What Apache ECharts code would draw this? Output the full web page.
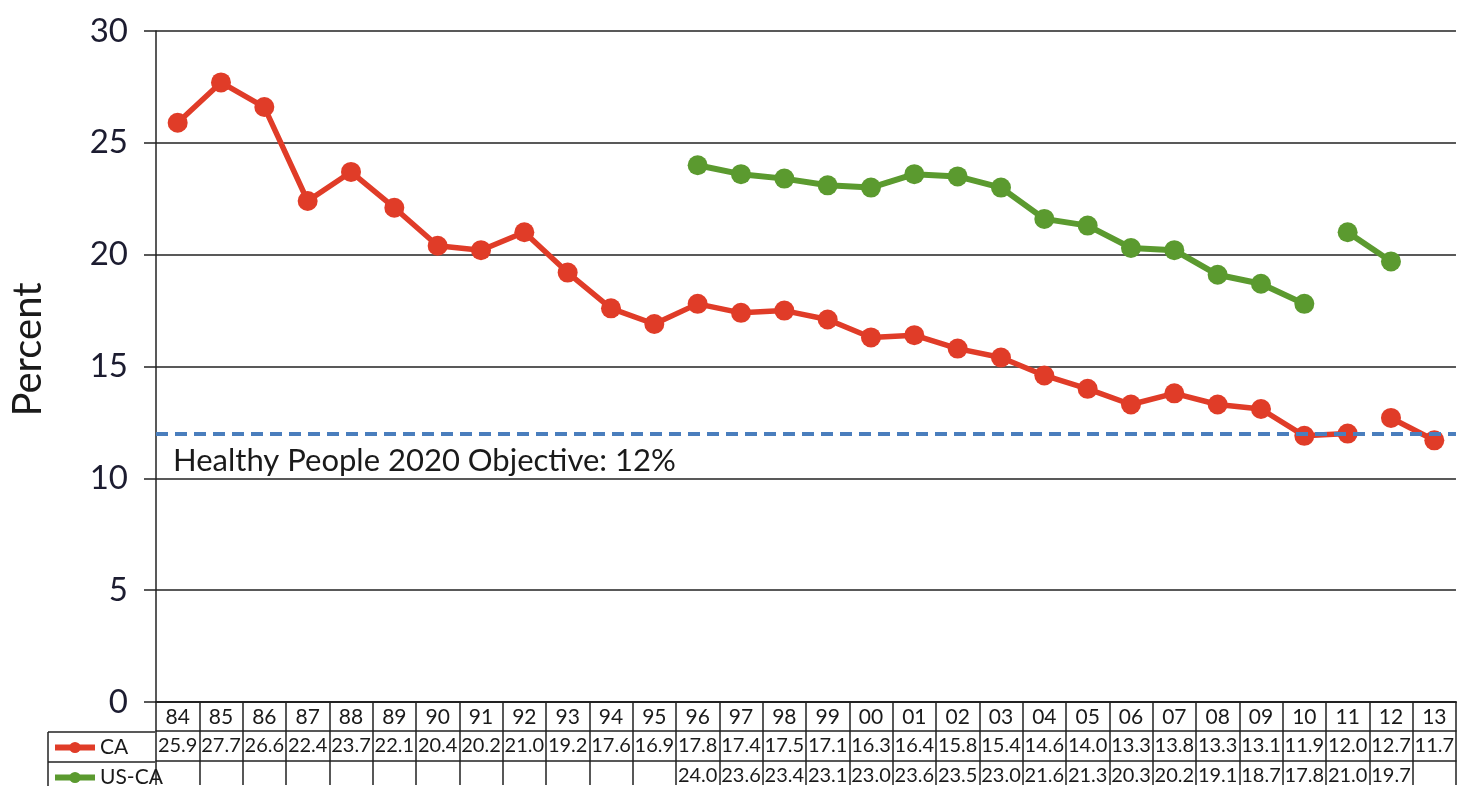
<!DOCTYPE html>
<html>
<head>
<meta charset="utf-8">
<script src="https://cdn.jsdelivr.net/npm/echarts@6/dist/echarts.min.js"></script>
<style>
  html, body { margin: 0; padding: 0; background: #fff; }
  #chart { width: 1457px; height: 786px; }
</style>
</head>
<body>
<div id="chart"></div>
<script>
var years = ['84', '85', '86', '87', '88', '89', '90', '91', '92', '93', '94', '95', '96', '97', '98',
             '99', '00', '01', '02', '03', '04', '05', '06', '07', '08', '09', '10', '11', '12', '13'];
var ca = [25.9, 27.7, 26.6, 22.4, 23.7, 22.1, 20.4, 20.2, 21.0, 19.2, 17.6, 16.9, 17.8, 17.4, 17.5,
          17.1, 16.3, 16.4, 15.8, 15.4, 14.6, 14.0, 13.3, 13.8, 13.3, 13.1, 11.9, 12.0, 12.7, 11.7];
var usca = [null, null, null, null, null, null, null, null, null, null, null, null, 24.0, 23.6, 23.4,
            23.1, 23.0, 23.6, 23.5, 23.0, 21.6, 21.3, 20.3, 20.2, 19.1, 18.7, 17.8, 21.0, 19.7, null];
var yTicks = [0, 5, 10, 15, 20, 25, 30];
var objective = 12;
// the survey lines break between these years
var caBreak = '11';
var uscaBreak = '10';

function splitAt(arr, year) {
    let k = years.indexOf(year);
    return [
        arr.map((v, i) => i <= k ? v : null),
        arr.map((v, i) => i > k ? v : null)
    ];
}

function cells(arr) {
    return arr.map(v => v == null ? '' : v.toFixed(1));
}

var caParts = splitAt(ca, caBreak);
var uscaParts = splitAt(usca, uscaBreak);

var red = '#e03c28';
var green = '#5b9a2f';
var ink = '#1a1a1a';
var font = 'Lato';

function lineSeries(name, data, color, width) {
    return {
        name: name,
        type: 'line',
        data: data,
        connectNulls: false,
        symbol: 'circle',
        symbolSize: 20,
        color: color,
        lineStyle: { color: color, width: width },
        itemStyle: { color: color },
        emphasis: { disabled: true }
    };
}

var tableAxis = function (data, offset) {
    return {
        type: 'category',
        position: 'bottom',
        offset: offset,
        data: data,
        axisLine: { show: true, lineStyle: { color: '#222', width: 1.5 } },
        axisTick: { show: false },
        axisLabel: { interval: 0, margin: 5, fontSize: 20, color: ink, fontFamily: font }
    };
};

var legendRow = function (name, top) {
    return {
        orient: 'vertical',
        left: 52,
        top: top,
        padding: 0,
        itemWidth: 40,
        itemHeight: 14,
        itemGap: 4,
        selectedMode: false,
        lineStyle: { width: 6 },
        textStyle: { fontSize: 21, lineHeight: 20, color: ink, fontFamily: font },
        data: [name]
    };
};

var chart = echarts.init(document.getElementById('chart'));
var series = [
    lineSeries('CA', caParts[0], red, 5.5),
    lineSeries('CA', caParts[1], red, 5.5),
    lineSeries('US-CA', uscaParts[0], green, 6),
    lineSeries('US-CA', uscaParts[1], green, 6)
];
series[3].markLine = {
    silent: true,
    symbol: 'none',
    lineStyle: { color: '#4a7ebd', width: 4, type: [12, 7] },
    label: {
        show: true,
        position: 'insideStartBottom',
        distance: [17, 12],
        formatter: 'Healthy People 2020 Objective: ' + objective + '%',
        fontSize: 31,
        color: ink,
        fontFamily: font
    },
    data: [{ yAxis: objective }]
};

chart.setOption({
    animation: false,
    grid: { left: 155, top: 31, width: 1304, bottom: 83, containLabel: false },
    legend: [legendRow('CA', 737), legendRow('US-CA', 767)],
    xAxis: [{
        type: 'category',
        position: 'bottom',
        data: years,
        axisLine: { show: true, lineStyle: { color: '#222', width: 2 } },
        axisTick: { show: true, interval: 0, length: 83, lineStyle: { color: '#222', width: 1.5 } },
        axisLabel: { interval: 0, margin: 5, fontSize: 21, color: ink, fontFamily: font }
    },
    tableAxis(cells(ca), 29),
    tableAxis(cells(usca), 59)],
    yAxis: {
        type: 'value',
        min: yTicks[0],
        max: yTicks[yTicks.length - 1],
        interval: yTicks[1] - yTicks[0],
        name: 'Percent',
        nameLocation: 'middle',
        nameGap: 108,
        nameTextStyle: { fontSize: 40, color: ink, fontFamily: font, padding: [0, 0, 0, 34] },
        axisLine: { show: true, lineStyle: { color: '#222', width: 1.5 } },
        axisTick: { show: true, length: 12, lineStyle: { color: '#222', width: 1.5 } },
        axisLabel: { margin: 28, fontSize: 33, color: '#1c1c30', fontFamily: font },
        splitLine: { show: true, lineStyle: { color: '#222', width: 1.5 } }
    },
    graphic: [
        { type: 'line', shape: { x1: 48, y1: 732, x2: 155, y2: 732 }, style: { stroke: '#222', lineWidth: 1.5 } },
        { type: 'line', shape: { x1: 48, y1: 762, x2: 155, y2: 762 }, style: { stroke: '#222', lineWidth: 1.5 } },
        { type: 'line', shape: { x1: 48, y1: 732, x2: 48, y2: 786 }, style: { stroke: '#222', lineWidth: 1.5 } }
    ],
    series: series
});
</script>
</body>
</html>
